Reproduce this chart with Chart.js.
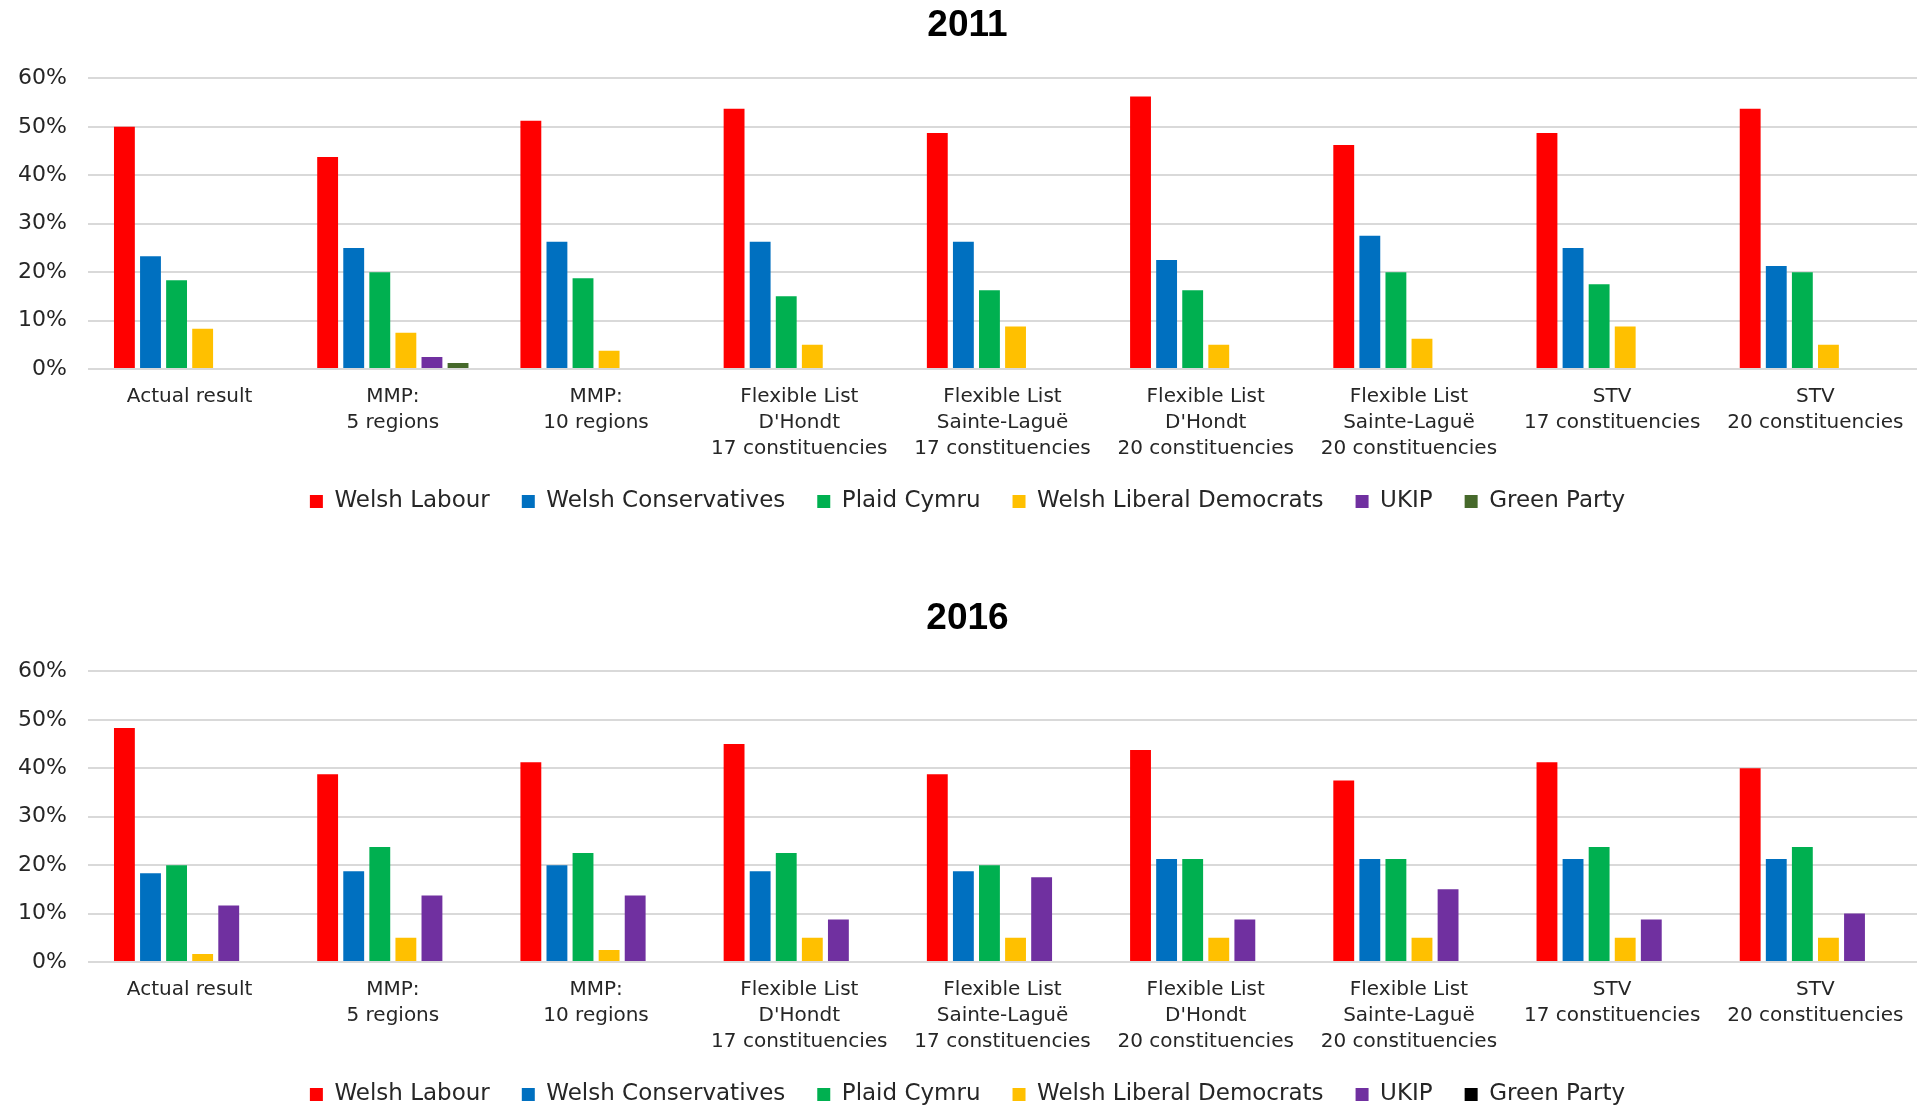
<!DOCTYPE html>
<html>
<head>
<meta charset="utf-8">
<script src="https://cdn.jsdelivr.net/npm/chart.js@4"></script>
<style>
  html, body { margin: 0; padding: 0; background: #fff; overflow: hidden; }
  .box { position: absolute; left: 18px; width: 1906px; height: 523px; }
  #box2011 { top: 0; }
  #box2016 { top: 593px; }
</style>
</head>
<body>
<div class="box" id="box2011"><canvas id="chart2011"></canvas></div>
<div class="box" id="box2016"><canvas id="chart2016"></canvas></div>
<script>
// categories (multi-line tick labels)
const categories = [
    ['Actual result'],
    ['MMP:', '5 regions'],
    ['MMP:', '10 regions'],
    ['Flexible List', "D'Hondt", '17 constituencies'],
    ['Flexible List', 'Sainte-Laguë', '17 constituencies'],
    ['Flexible List', "D'Hondt", '20 constituencies'],
    ['Flexible List', 'Sainte-Laguë', '20 constituencies'],
    ['STV', '17 constituencies'],
    ['STV', '20 constituencies']
];

const parties = ['Welsh Labour', 'Welsh Conservatives', 'Plaid Cymru', 'Welsh Liberal Democrats', 'UKIP', 'Green Party'];

// 2011 seat shares (%)
const labour2011  = [50.0, 43.75, 51.25, 53.75, 48.75, 56.25, 46.25, 48.75, 53.75];
const cons2011    = [23.3, 25.0, 26.25, 26.25, 26.25, 22.5, 27.5, 25.0, 21.25];
const plaid2011   = [18.3, 20.0, 18.75, 15.0, 16.25, 16.25, 20.0, 17.5, 20.0];
const libdem2011  = [8.3, 7.5, 3.75, 5.0, 8.75, 5.0, 6.25, 8.75, 5.0];
const ukip2011    = [null, 2.5, null, null, null, null, null, null, null];
const green2011   = [null, 1.25, null, null, null, null, null, null, null];

// 2016 seat shares (%)
const labour2016  = [48.3, 38.75, 41.25, 45.0, 38.75, 43.75, 37.5, 41.25, 40.0];
const cons2016    = [18.3, 18.75, 20.0, 18.75, 18.75, 21.25, 21.25, 21.25, 21.25];
const plaid2016   = [20.0, 23.75, 22.5, 22.5, 20.0, 21.25, 21.25, 23.75, 23.75];
const libdem2016  = [1.67, 5.0, 2.5, 5.0, 5.0, 5.0, 5.0, 5.0, 5.0];
const ukip2016    = [11.67, 13.75, 13.75, 8.75, 17.5, 8.75, 15.0, 8.75, 10.0];
const green2016   = [null, null, null, null, null, null, null, null, null];

const yTicks = [0, 10, 20, 30, 40, 50, 60];

const colours2011 = ['#FF0000', '#0070C0', '#00B050', '#FFC000', '#7030A0', '#46692B'];
const colours2016 = ['#FF0000', '#0070C0', '#00B050', '#FFC000', '#7030A0', '#000000'];

const FONT = "'DejaVu Sans', sans-serif";

function makeChart(id, title, series, colours) {
    const ctx = document.getElementById(id).getContext('2d');
    return new Chart(ctx, {
        type: 'bar',
        data: {
            labels: categories,
            datasets: series.map((data, i) => ({
                label: parties[i],
                data: data,
                backgroundColor: colours[i],
                borderWidth: 0,
                categoryPercentage: 0.77,
                barPercentage: 0.8
            }))
        },
        options: {
            responsive: true,
            maintainAspectRatio: false,
            animation: false,
            layout: { padding: { left: 0, right: 7, top: 0, bottom: 0 } },
            scales: {
                x: {
                    grid: { display: false, drawTicks: false },
                    border: { display: false },
                    ticks: {
                        color: '#262626',
                        font: { family: FONT, size: 20, lineHeight: 1.3 },
                        padding: 15,
                        maxRotation: 0,
                        autoSkip: false
                    },
                    afterFit: (scale) => { scale.height = 89; }
                },
                y: {
                    min: 0,
                    max: 60,
                    afterBuildTicks: (scale) => { scale.ticks = yTicks.map(v => ({ value: v })); },
                    afterFit: (scale) => { scale.width = 70; },
                    grid: { color: '#D9D9D9', lineWidth: 2, drawTicks: false },
                    border: { display: false },
                    ticks: {
                        color: '#262626',
                        font: { family: FONT, size: 22 },
                        padding: 21,
                        callback: (v) => v + '%'
                    }
                }
            },
            plugins: {
                title: {
                    display: true,
                    text: title,
                    color: '#000',
                    font: { family: "'Liberation Sans', sans-serif", size: 37, weight: 'bold', lineHeight: 1.2 },
                    padding: { top: 4, bottom: 30 }
                },
                legend: {
                    position: 'bottom',
                    labels: {
                        color: '#262626',
                        font: { family: FONT, size: 23 },
                        boxWidth: 13,
                        boxHeight: 13,
                        padding: 32
                    }
                },
                tooltip: { enabled: false }
            }
        }
    });
}

makeChart('chart2011', '2011',
    [labour2011, cons2011, plaid2011, libdem2011, ukip2011, green2011], colours2011);
makeChart('chart2016', '2016',
    [labour2016, cons2016, plaid2016, libdem2016, ukip2016, green2016], colours2016);
</script>
</body>
</html>
